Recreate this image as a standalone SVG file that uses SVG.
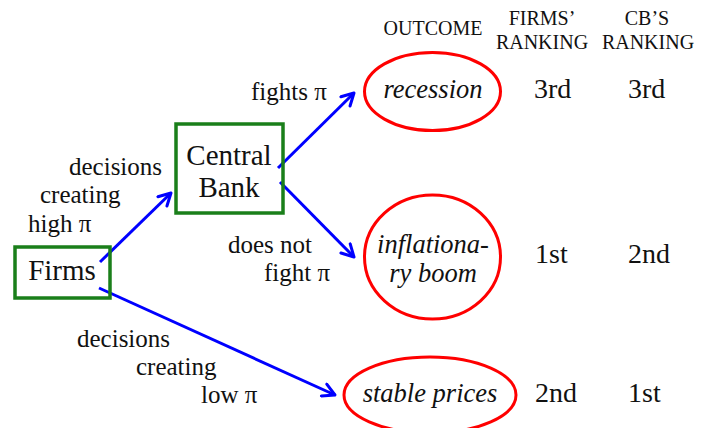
<svg xmlns="http://www.w3.org/2000/svg" width="713" height="428" viewBox="0 0 713 428" font-family="Liberation Serif, DejaVu Serif, serif">
<style>
text{fill:#111}
.box{fill:none;stroke:#1a7f1a;stroke-width:3.5}
.ell{fill:none;stroke:#ff0000;stroke-width:3}
.node{font-size:29px;text-anchor:middle}
.lbl{font-size:25px}
.out{font-style:italic;font-size:26.5px;text-anchor:middle}
.rank{font-size:28px}
.hdr{font-size:20px;text-anchor:middle}
.arr{fill:none;stroke:#0000ff;stroke-width:3;marker-end:url(#ah)}
</style>
<defs>
<marker id="ah" markerUnits="userSpaceOnUse" viewBox="0 0 16 16" markerWidth="16" markerHeight="16" refX="14" refY="8" orient="auto">
<path d="M2,1.5 L14,8 L2,14.5" fill="none" stroke="#0000ff" stroke-width="3" stroke-linecap="round" stroke-linejoin="round"/>
</marker>
</defs>
<rect width="713" height="428" fill="#fff"/>
<g id="connectors">
<line class="arr" x1="100" y1="262" x2="171" y2="193"/>
<line class="arr" x1="278" y1="168" x2="354" y2="93"/>
<line class="arr" x1="280" y1="182" x2="354" y2="257"/>
<line class="arr" x1="99" y1="288" x2="335" y2="395"/>
<text class="lbl" x="69" y="175">decisions</text>
<text class="lbl" x="40" y="203">creating</text>
<text class="lbl" x="28" y="232">high π</text>
<text class="lbl" x="251" y="100">fights π</text>
<text class="lbl" x="228" y="253">does not</text>
<text class="lbl" x="264" y="281">fight π</text>
<text class="lbl" x="77" y="347">decisions</text>
<text class="lbl" x="136" y="375">creating</text>
<text class="lbl" x="201" y="403">low π</text>
</g>
<g id="firms">
<rect class="box" x="15" y="247" width="95" height="51"/>
<text class="node" x="62" y="280">Firms</text>
</g>
<g id="central-bank">
<rect class="box" x="176" y="124" width="107" height="89"/>
<text class="node" x="229" y="165">Central</text>
<text class="node" x="229" y="197">Bank</text>
</g>
<g id="recession">
<ellipse class="ell" cx="432.5" cy="91.5" rx="68" ry="39"/>
<text class="out" x="433" y="98">recession</text>
</g>
<g id="inflationary-boom">
<ellipse class="ell" cx="432.5" cy="257" rx="68" ry="62"/>
<text class="out" x="433" y="253">inflationa-</text>
<text class="out" x="433" y="282">ry boom</text>
</g>
<g id="stable-prices">
<ellipse class="ell" cx="430" cy="395" rx="86" ry="38"/>
<text class="out" x="430" y="402">stable prices</text>
</g>
<g id="table">
<text class="hdr" x="433" y="35">OUTCOME</text>
<text class="hdr" x="542" y="25">FIRMS’</text>
<text class="hdr" x="542" y="49">RANKING</text>
<text class="hdr" x="647" y="25">CB’S</text>
<text class="hdr" x="648" y="49">RANKING</text>
<text class="rank" x="534" y="98">3rd</text>
<text class="rank" x="628" y="98">3rd</text>
<text class="rank" x="535" y="263">1st</text>
<text class="rank" x="628" y="263">2nd</text>
<text class="rank" x="535" y="402">2nd</text>
<text class="rank" x="628" y="402">1st</text>
</g>
</svg>
